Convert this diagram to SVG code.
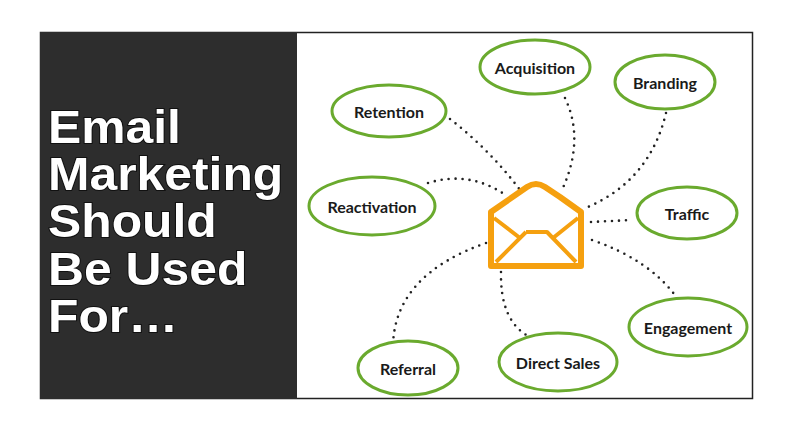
<svg xmlns="http://www.w3.org/2000/svg" width="795" height="448" viewBox="0 0 795 448">
<style>
.n ellipse{fill:#fff;stroke:#6aaa2e;stroke-width:3}
.n text{font-family:Lato,"Open Sans",sans-serif;font-weight:bold;font-size:16px;fill:#1a1a1a;text-anchor:middle;dominant-baseline:central}
.c path{fill:none;stroke:#222;stroke-width:2.6;stroke-dasharray:0 7;stroke-linecap:round}
.t{font-family:"Liberation Sans",Arial,sans-serif;font-weight:700;font-size:47px;fill:#fff;stroke:#111;stroke-width:2;paint-order:stroke}
</style>
<rect width="795" height="448" fill="#fff"/>
<rect x="40.5" y="32.5" width="712" height="366" fill="#fff" stroke="#222" stroke-width="1.5"/>
<rect x="40" y="32" width="257" height="367" fill="#2d2d2d"/>
<g id="title" transform="translate(48,0) scale(1.06,1)">
<text class="t" x="0" y="143">Email</text>
<text class="t" x="0" y="190">Marketing</text>
<text class="t" x="0" y="237">Should</text>
<text class="t" x="0" y="285">Be Used</text>
<text class="t" x="0" y="332">For…</text>
</g>
<g class="c" id="connectors">
<path d="M450,119 Q490,150 520,190"/>
<path d="M565,98 Q585,140 562,190"/>
<path d="M666,113 Q650,180 588,207"/>
<path d="M428,183 Q470,170 507,196"/>
<path d="M591,222 L632,220"/>
<path d="M592,240 Q650,260 677,298"/>
<path d="M501,272 Q500,320 528,336"/>
<path d="M486,243 Q395,275 393,345"/>
</g>
<g id="envelope" fill="none" stroke="#f5a00f" stroke-linejoin="round">
<path d="M491,212 L491,266 L581,266 L581,212 L560,197 L545,187 Q536,181 527,187 L491,212 Z" stroke-width="6"/>
<path d="M494,218 L520,238 M578,218 L553,238 M526,232 L547,232 L576,262 M526,232 L496,262" stroke-width="4"/>
</g>
<g class="n" id="acquisition"><ellipse cx="535" cy="67" rx="55" ry="27"/><text x="535" y="67">Acquisition</text></g>
<g class="n" id="branding"><ellipse cx="665" cy="82" rx="50" ry="27"/><text x="665" y="82">Branding</text></g>
<g class="n" id="retention"><ellipse cx="389" cy="111" rx="57" ry="26"/><text x="389" y="111">Retention</text></g>
<g class="n" id="reactivation"><ellipse cx="372" cy="206" rx="63" ry="29"/><text x="372" y="206">Reactivation</text></g>
<g class="n" id="traffic"><ellipse cx="687" cy="213" rx="50" ry="26"/><text x="687" y="213">Traffic</text></g>
<g class="n" id="engagement"><ellipse cx="688" cy="327" rx="59" ry="29"/><text x="688" y="327">Engagement</text></g>
<g class="n" id="direct-sales"><ellipse cx="558" cy="362" rx="59" ry="29"/><text x="558" y="362">Direct Sales</text></g>
<g class="n" id="referral"><ellipse cx="408" cy="368" rx="50" ry="27"/><text x="408" y="368">Referral</text></g>
</svg>
